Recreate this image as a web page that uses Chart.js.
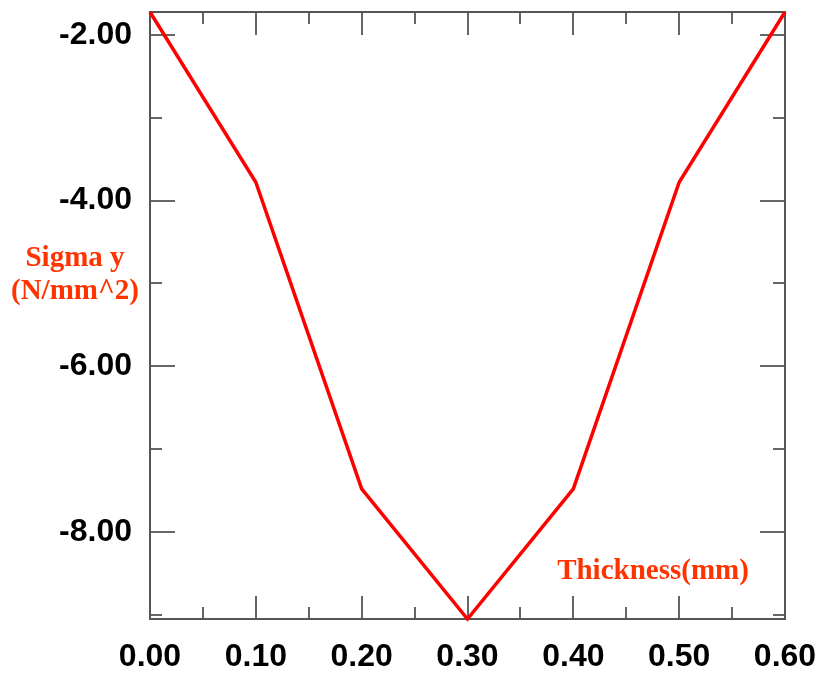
<!DOCTYPE html>
<html>
<head>
<meta charset="utf-8">
<script src="https://cdn.jsdelivr.net/npm/chart.js@4.4.1/dist/chart.umd.min.js"></script>
<style>
html,body{margin:0;padding:0;background:#fff;}
#wrap{position:relative;width:820px;height:677px;}
canvas{display:block;}
</style>
</head>
<body>
<div id="wrap"><canvas id="c" width="820" height="677"></canvas></div>
<script>
const thickness = [0.0, 0.1, 0.2, 0.3, 0.4, 0.5, 0.6];
const sigmaY = [-1.725, -3.78, -7.48, -9.05, -7.48, -3.78, -1.725];
const xTickValues = [0.0, 0.1, 0.2, 0.3, 0.4, 0.5, 0.6];
const xMinorValues = [0.05, 0.15, 0.25, 0.35, 0.45, 0.55];
const yTickValues = [-8, -6, -4, -2];
const yMinorValues = [-9, -7, -5, -3];
const yAxisTitle = ["Sigma y", "(N/mm^2)"];
const xAxisTitle = "Thickness(mm)";

const innerTicks = {
  id: 'innerTicks',
  beforeDatasetsDraw(chart) {
    const {ctx, chartArea: a, scales: {x, y}} = chart;
    ctx.save();
    ctx.strokeStyle = '#666';
    ctx.lineWidth = 2;
    ctx.beginPath();
    xTickValues.forEach(v => {
      const px = Math.round(x.getPixelForValue(v));
      if (v > 0 && v < 0.6) {
        ctx.moveTo(px, a.bottom); ctx.lineTo(px, a.bottom - 23);
        ctx.moveTo(px, a.top); ctx.lineTo(px, a.top + 23);
      }
    });
    xMinorValues.forEach(v => {
      const px = Math.round(x.getPixelForValue(v));
      ctx.moveTo(px, a.bottom); ctx.lineTo(px, a.bottom - 12);
      ctx.moveTo(px, a.top); ctx.lineTo(px, a.top + 12);
    });
    yTickValues.forEach(v => {
      const py = Math.round(y.getPixelForValue(v));
      ctx.moveTo(a.left, py); ctx.lineTo(a.left + 25, py);
      ctx.moveTo(a.right, py); ctx.lineTo(a.right - 25, py);
    });
    yMinorValues.forEach(v => {
      const py = Math.round(y.getPixelForValue(v));
      ctx.moveTo(a.left, py); ctx.lineTo(a.left + 12, py);
      ctx.moveTo(a.right, py); ctx.lineTo(a.right - 12, py);
    });
    ctx.stroke();
    ctx.strokeStyle = '#555';
    ctx.lineWidth = 2;
    ctx.strokeRect(a.left, a.top, a.right - a.left, a.bottom - a.top);
    ctx.restore();
  }
};

const titles = {
  id: 'titles',
  afterDraw(chart) {
    const ctx = chart.ctx;
    ctx.save();
    ctx.fillStyle = '#ff3300';
    ctx.font = 'bold 29px "Liberation Serif", "Times New Roman", serif';
    ctx.textAlign = 'center';
    ctx.textBaseline = 'middle';
    ctx.fillText(yAxisTitle[0], 75, 259);
    ctx.fillText(yAxisTitle[1], 75, 292);
    ctx.fillText(xAxisTitle, 653, 572);
    ctx.restore();
  }
};

function zeroPad(s) { s.paddingTop = 0; s.paddingBottom = 0; s.paddingLeft = 0; s.paddingRight = 0; }

new Chart(document.getElementById('c'), {
  type: 'line',
  data: {
    datasets: [{
      data: thickness.map((t, i) => ({x: t, y: sigmaY[i]})),
      borderColor: '#ff0000',
      borderWidth: 3.5,
      pointRadius: 0,
      tension: 0,
      fill: false,
      clip: 4
    }]
  },
  options: {
    responsive: false,
    animation: false,
    events: [],
    layout: {padding: {left: 0, right: 35, top: 12, bottom: 0}},
    plugins: {legend: {display: false}, tooltip: {enabled: false}},
    scales: {
      x: {
        type: 'linear',
        min: 0, max: 0.6,
        afterBuildTicks: s => { s.ticks = xTickValues.map(v => ({value: v})); },
        afterFit: s => { s.height = 58; zeroPad(s); },
        grid: {display: false, drawTicks: false},
        border: {display: false},
        ticks: {
          padding: 19,
          color: '#000',
          font: {family: '"Liberation Sans", Arial, sans-serif', size: 32, weight: 'bold'},
          callback: v => Number(v).toFixed(2),
          maxRotation: 0, autoSkip: false
        }
      },
      y: {
        type: 'linear',
        min: -9.05, max: -1.725,
        afterBuildTicks: s => { s.ticks = yTickValues.map(v => ({value: v})); },
        afterFit: s => { s.width = 150; zeroPad(s); },
        grid: {display: false, drawTicks: false},
        border: {display: false},
        ticks: {
          padding: 18,
          color: '#000',
          font: {family: '"Liberation Sans", Arial, sans-serif', size: 32, weight: 'bold'},
          callback: v => Number(v).toFixed(2)
        }
      }
    }
  },
  plugins: [innerTicks, titles]
});
</script>
</body>
</html>
